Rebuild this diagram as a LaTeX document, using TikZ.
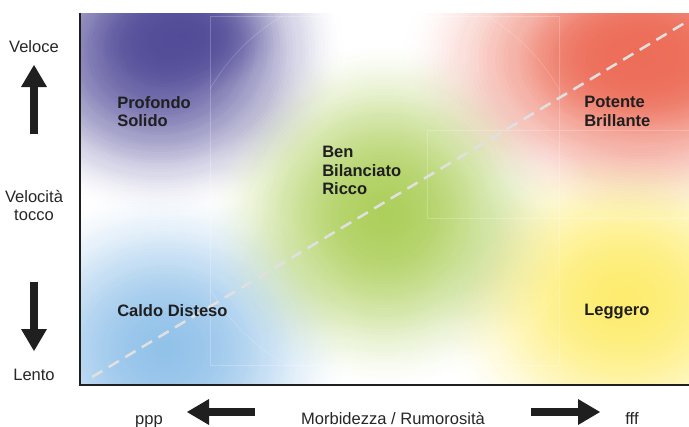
\documentclass[tikz,border=0pt]{standalone}
\usepackage{fontspec}
\setmainfont{Liberation Sans}
\usetikzlibrary{arrows.meta}

\definecolor{blobpurple}{HTML}{4E4896}
\definecolor{blobred}{HTML}{EC6A55}
\definecolor{blobgreen}{HTML}{A8CC52}
\definecolor{blobblue}{HTML}{8CBEE8}
\definecolor{blobyellow}{HTML}{FDEB66}

% colour, x, y, outer radii: evenly spaced rings, fainter towards the rim
\newcommand{\blob}[5]{\foreach \k in {1,...,59} {\pgfmathsetmacro{\op}{1-exp(-0.107*(1-\k/60))}\fill[#1, opacity=\op] (#2,#3) ellipse ({#4*\k/60} and {#5*\k/60});}}

\begin{document}
\begin{tikzpicture}[x=0.75pt,y=-0.75pt,
  axislabel/.style={font=\fontsize{12.4}{13.5}\selectfont, text=black!85, inner sep=0pt, anchor=base},
  zone/.style={font=\bfseries\fontsize{12.4}{13.8}\selectfont, text=black!88, inner sep=0pt, anchor=north west, align=left},
  bigarrow/.style={line width=6pt, draw=black!88, -{Triangle[length=16.5pt,width=19.5pt,line width=0pt]}},
  guide/.style={draw=white, opacity=0.22, line width=0.4pt}]
\useasboundingbox (0,0) rectangle (689,426);

% colour field
\begin{scope}
\clip (80,13) rectangle (689,385);
\blob{blobblue}{165}{350}{190}{170}
\blob{blobyellow}{625}{300}{200}{170}
\blob{blobgreen}{385}{215}{185}{180}
\blob{blobred}{645}{60}{250}{165}
\blob{blobred}{640}{55}{130}{80}
\blob{blobpurple}{160}{50}{190}{170}
\blob{blobpurple}{185}{35}{100}{65}
% faint construction lines
\draw[guide] (210,16) rectangle (559,365);
\begin{scope}
\clip (210,16) rectangle (559,365);
\draw[guide] (384.5,189) circle (201);
\end{scope}
\draw[guide] (427,130) rectangle (689,218);
\end{scope}

% diagonal
\coordinate (softslow) at (92,377);
\coordinate (loudfast) at (688,21);
\draw[white!88!black, line width=1.9pt, dash pattern=on 9pt off 5.5pt] (softslow) -- (loudfast);

% axes
\coordinate (axtop) at (80,13);
\coordinate (axorigin) at (80,385);
\coordinate (axright) at (689,385);
\draw[line width=2pt, black!88] (axtop) -- (axorigin) -- (axright);

% zone labels
\node[zone] (profondo) at (117,96) {Profondo\\Solido};
\node[zone] (ben) at (322,146) {Ben\\Bilanciato\\Ricco};
\node[zone] (potente) at (584,96) {Potente\\Brillante};
\node[zone] (caldo) at (117,304) {Caldo Disteso};
\node[zone] (leggero) at (584,304) {Leggero};

% vertical axis
\node[axislabel] (veloce) at (34,52) {Veloce};
\node[axislabel] (velocita) at (34,202) {Velocità};
\node[axislabel] (tocco) at (34,220) {tocco};
\node[axislabel] (lento) at (34,380) {Lento};
\coordinate (upfrom) at (34,134);
\coordinate (upto) at (34,65);
\draw[bigarrow] (upfrom) -- (upto);
\coordinate (downfrom) at (34,282);
\coordinate (downto) at (34,351);
\draw[bigarrow] (downfrom) -- (downto);

% horizontal axis
\node[axislabel] (ppp) at (149,424) {ppp};
\node[axislabel] (morbidezza) at (393,424) {Morbidezza / Rumorosità};
\node[axislabel] (fff) at (632,424) {fff};
\coordinate (leftfrom) at (255,412);
\coordinate (leftto) at (187,412);
\draw[bigarrow] (leftfrom) -- (leftto);
\coordinate (rightfrom) at (531,412);
\coordinate (rightto) at (600,412);
\draw[bigarrow] (rightfrom) -- (rightto);

\end{tikzpicture}
\end{document}
